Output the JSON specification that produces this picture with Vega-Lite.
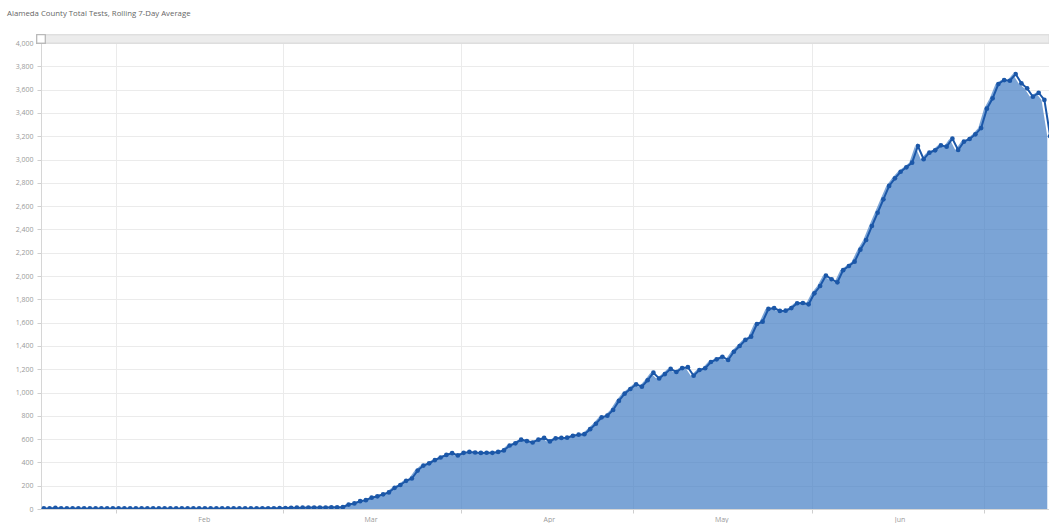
{
  "$schema": "https://vega.github.io/schema/vega-lite/v6.json",
  "autosize": "none",
  "width": 1008,
  "height": 466,
  "padding": {"left": 41, "top": 43, "right": 0, "bottom": 14},
  "background": "white",
  "title": {
    "text": "Alameda County Total Tests, Rolling 7-Day Average",
    "anchor": "start",
    "frame": "group",
    "dx": -34,
    "offset": 15,
    "font": "Open Sans",
    "fontSize": 7.8,
    "fontWeight": "normal",
    "color": "#666666"
  },
  "config": {
    "view": {"stroke": null},
    "axis": {
      "labelFont": "Open Sans",
      "labelFontSize": 7,
      "labelColor": "#9a9a9a",
      "labelOverlap": false,
      "gridColor": "#ebebeb",
      "gridWidth": 1,
      "tickColor": "#cfcfcf",
      "tickSize": 4,
      "domainColor": "#d6d6d6"
    },
    "axisY": {"tickCount": 20}
  },
  "data": {
    "values": [
      {"date": "2020-01-19", "tests": 5}, {"date": "2020-01-20", "tests": 5}, {"date": "2020-01-21", "tests": 9},
      {"date": "2020-01-22", "tests": 5}, {"date": "2020-01-23", "tests": 5}, {"date": "2020-01-24", "tests": 5},
      {"date": "2020-01-25", "tests": 5}, {"date": "2020-01-26", "tests": 5}, {"date": "2020-01-27", "tests": 5},
      {"date": "2020-01-28", "tests": 5}, {"date": "2020-01-29", "tests": 5}, {"date": "2020-01-30", "tests": 5},
      {"date": "2020-01-31", "tests": 5},
      {"date": "2020-02-01", "tests": 5}, {"date": "2020-02-02", "tests": 5}, {"date": "2020-02-03", "tests": 5},
      {"date": "2020-02-04", "tests": 5}, {"date": "2020-02-05", "tests": 5}, {"date": "2020-02-06", "tests": 5},
      {"date": "2020-02-07", "tests": 5}, {"date": "2020-02-08", "tests": 5}, {"date": "2020-02-09", "tests": 5},
      {"date": "2020-02-10", "tests": 5}, {"date": "2020-02-11", "tests": 5}, {"date": "2020-02-12", "tests": 5},
      {"date": "2020-02-13", "tests": 5}, {"date": "2020-02-14", "tests": 5}, {"date": "2020-02-15", "tests": 5},
      {"date": "2020-02-16", "tests": 5}, {"date": "2020-02-17", "tests": 5}, {"date": "2020-02-18", "tests": 5},
      {"date": "2020-02-19", "tests": 5}, {"date": "2020-02-20", "tests": 5}, {"date": "2020-02-21", "tests": 5},
      {"date": "2020-02-22", "tests": 5}, {"date": "2020-02-23", "tests": 5}, {"date": "2020-02-24", "tests": 5},
      {"date": "2020-02-25", "tests": 5}, {"date": "2020-02-26", "tests": 6}, {"date": "2020-02-27", "tests": 6},
      {"date": "2020-02-28", "tests": 6}, {"date": "2020-02-29", "tests": 7},
      {"date": "2020-03-01", "tests": 8}, {"date": "2020-03-02", "tests": 10}, {"date": "2020-03-03", "tests": 11},
      {"date": "2020-03-04", "tests": 11}, {"date": "2020-03-05", "tests": 12}, {"date": "2020-03-06", "tests": 12},
      {"date": "2020-03-07", "tests": 12}, {"date": "2020-03-08", "tests": 13}, {"date": "2020-03-09", "tests": 14},
      {"date": "2020-03-10", "tests": 14}, {"date": "2020-03-11", "tests": 16}, {"date": "2020-03-12", "tests": 38},
      {"date": "2020-03-13", "tests": 48}, {"date": "2020-03-14", "tests": 67}, {"date": "2020-03-15", "tests": 76},
      {"date": "2020-03-16", "tests": 97}, {"date": "2020-03-17", "tests": 109}, {"date": "2020-03-18", "tests": 126},
      {"date": "2020-03-19", "tests": 142}, {"date": "2020-03-20", "tests": 182}, {"date": "2020-03-21", "tests": 206},
      {"date": "2020-03-22", "tests": 242}, {"date": "2020-03-23", "tests": 262}, {"date": "2020-03-24", "tests": 330},
      {"date": "2020-03-25", "tests": 373}, {"date": "2020-03-26", "tests": 392}, {"date": "2020-03-27", "tests": 420},
      {"date": "2020-03-28", "tests": 442}, {"date": "2020-03-29", "tests": 464}, {"date": "2020-03-30", "tests": 480},
      {"date": "2020-03-31", "tests": 460},
      {"date": "2020-04-01", "tests": 482}, {"date": "2020-04-02", "tests": 490}, {"date": "2020-04-03", "tests": 485},
      {"date": "2020-04-04", "tests": 481}, {"date": "2020-04-05", "tests": 483}, {"date": "2020-04-06", "tests": 482},
      {"date": "2020-04-07", "tests": 490}, {"date": "2020-04-08", "tests": 503}, {"date": "2020-04-09", "tests": 545},
      {"date": "2020-04-10", "tests": 564}, {"date": "2020-04-11", "tests": 595}, {"date": "2020-04-12", "tests": 583},
      {"date": "2020-04-13", "tests": 571}, {"date": "2020-04-14", "tests": 595}, {"date": "2020-04-15", "tests": 610},
      {"date": "2020-04-16", "tests": 580}, {"date": "2020-04-17", "tests": 607}, {"date": "2020-04-18", "tests": 610},
      {"date": "2020-04-19", "tests": 612}, {"date": "2020-04-20", "tests": 628}, {"date": "2020-04-21", "tests": 638},
      {"date": "2020-04-22", "tests": 642}, {"date": "2020-04-23", "tests": 685}, {"date": "2020-04-24", "tests": 732},
      {"date": "2020-04-25", "tests": 787}, {"date": "2020-04-26", "tests": 801}, {"date": "2020-04-27", "tests": 850},
      {"date": "2020-04-28", "tests": 928}, {"date": "2020-04-29", "tests": 990}, {"date": "2020-04-30", "tests": 1030},
      {"date": "2020-05-01", "tests": 1070}, {"date": "2020-05-02", "tests": 1050}, {"date": "2020-05-03", "tests": 1105},
      {"date": "2020-05-04", "tests": 1170}, {"date": "2020-05-05", "tests": 1120}, {"date": "2020-05-06", "tests": 1158},
      {"date": "2020-05-07", "tests": 1203}, {"date": "2020-05-08", "tests": 1176}, {"date": "2020-05-09", "tests": 1210},
      {"date": "2020-05-10", "tests": 1217}, {"date": "2020-05-11", "tests": 1144}, {"date": "2020-05-12", "tests": 1193},
      {"date": "2020-05-13", "tests": 1208}, {"date": "2020-05-14", "tests": 1262}, {"date": "2020-05-15", "tests": 1285},
      {"date": "2020-05-16", "tests": 1307}, {"date": "2020-05-17", "tests": 1279}, {"date": "2020-05-18", "tests": 1350},
      {"date": "2020-05-19", "tests": 1399}, {"date": "2020-05-20", "tests": 1451}, {"date": "2020-05-21", "tests": 1479},
      {"date": "2020-05-22", "tests": 1588}, {"date": "2020-05-23", "tests": 1608}, {"date": "2020-05-24", "tests": 1717},
      {"date": "2020-05-25", "tests": 1725}, {"date": "2020-05-26", "tests": 1700}, {"date": "2020-05-27", "tests": 1702},
      {"date": "2020-05-28", "tests": 1725}, {"date": "2020-05-29", "tests": 1766}, {"date": "2020-05-30", "tests": 1768},
      {"date": "2020-05-31", "tests": 1757},
      {"date": "2020-06-01", "tests": 1851}, {"date": "2020-06-02", "tests": 1914}, {"date": "2020-06-03", "tests": 2004},
      {"date": "2020-06-04", "tests": 1972}, {"date": "2020-06-05", "tests": 1946}, {"date": "2020-06-06", "tests": 2050},
      {"date": "2020-06-07", "tests": 2086}, {"date": "2020-06-08", "tests": 2123}, {"date": "2020-06-09", "tests": 2226},
      {"date": "2020-06-10", "tests": 2309}, {"date": "2020-06-11", "tests": 2429}, {"date": "2020-06-12", "tests": 2543},
      {"date": "2020-06-13", "tests": 2658}, {"date": "2020-06-14", "tests": 2773}, {"date": "2020-06-15", "tests": 2838},
      {"date": "2020-06-16", "tests": 2895}, {"date": "2020-06-17", "tests": 2933}, {"date": "2020-06-18", "tests": 2973},
      {"date": "2020-06-19", "tests": 3116}, {"date": "2020-06-20", "tests": 3002}, {"date": "2020-06-21", "tests": 3059},
      {"date": "2020-06-22", "tests": 3079}, {"date": "2020-06-23", "tests": 3122}, {"date": "2020-06-24", "tests": 3110},
      {"date": "2020-06-25", "tests": 3179}, {"date": "2020-06-26", "tests": 3082}, {"date": "2020-06-27", "tests": 3153},
      {"date": "2020-06-28", "tests": 3176}, {"date": "2020-06-29", "tests": 3216}, {"date": "2020-06-30", "tests": 3270},
      {"date": "2020-07-01", "tests": 3436}, {"date": "2020-07-02", "tests": 3525}, {"date": "2020-07-03", "tests": 3648},
      {"date": "2020-07-04", "tests": 3682}, {"date": "2020-07-05", "tests": 3676}, {"date": "2020-07-06", "tests": 3734},
      {"date": "2020-07-07", "tests": 3654}, {"date": "2020-07-08", "tests": 3611}, {"date": "2020-07-09", "tests": 3539},
      {"date": "2020-07-10", "tests": 3573}, {"date": "2020-07-11", "tests": 3511}, {"date": "2020-07-12", "tests": 3200}
    ]
  },
  "layer": [
    {
      "mark": {"type": "area", "color": "#3d79c2", "opacity": 0.68, "clip": true},
      "encoding": {
        "x": {
          "field": "date",
          "type": "temporal",
          "timeUnit": "utcyearmonthdate",
          "bandPosition": 0.5,
          "title": null,
          "scale": {
            "type": "utc",
            "domain": [
              {"year": 2020, "month": 1, "date": 19, "utc": true},
              {"year": 2020, "month": 7, "date": 12, "hours": 7, "minutes": 12, "utc": true}
            ]
          },
          "axis": {
            "values": [
              {"year": 2020, "month": 2, "date": 1, "utc": true},
              {"year": 2020, "month": 3, "date": 1, "utc": true},
              {"year": 2020, "month": 4, "date": 1, "utc": true},
              {"year": 2020, "month": 5, "date": 1, "utc": true},
              {"year": 2020, "month": 6, "date": 1, "utc": true},
              {"year": 2020, "month": 7, "date": 1, "utc": true}
            ],
            "labelExpr": "utcmonth(datum.value) == 6 ? '' : utcFormat(datum.value, '%b')",
            "labelOffset": 88,
            "labelPadding": 2,
            "labelOverlap": false,
            "grid": true
          }
        },
        "y": {
          "field": "tests",
          "type": "quantitative",
          "title": null,
          "scale": {"domain": [0, 4000], "nice": false},
          "axis": {
            "tickCount": 20,
            "labelExpr": "format(datum.value, ',')",
            "labelPadding": 4,
            "labelOverlap": false,
            "grid": true
          }
        }
      }
    },
    {
      "mark": {"type": "line", "color": "#1b57a8", "strokeWidth": 2, "clip": true},
      "encoding": {
        "x": {"field": "date", "type": "temporal", "timeUnit": "utcyearmonthdate", "bandPosition": 0.5, "title": null},
        "y": {"field": "tests", "type": "quantitative", "title": null}
      }
    },
    {
      "mark": {"type": "point", "filled": true, "color": "#1b57a8", "size": 22, "opacity": 1, "clip": true},
      "encoding": {
        "x": {"field": "date", "type": "temporal", "timeUnit": "utcyearmonthdate", "bandPosition": 0.5, "title": null},
        "y": {"field": "tests", "type": "quantitative", "title": null}
      }
    },
    {
      "mark": {"type": "rect", "fill": "#ececec", "stroke": "#dddddd", "strokeWidth": 1},
      "encoding": {
        "x": {"datum": {"year": 2020, "month": 1, "date": 19, "utc": true}, "type": "temporal", "title": null},
        "x2": {"datum": {"year": 2020, "month": 7, "date": 12, "hours": 7, "minutes": 12, "utc": true}},
        "y": {"datum": 4000, "type": "quantitative", "title": null},
        "y2": {"datum": 4070}
      }
    },
    {
      "mark": {"type": "point", "shape": "square", "filled": true, "fill": "#ffffff", "stroke": "#b5b5b5", "strokeWidth": 1, "size": 70, "opacity": 1},
      "encoding": {
        "x": {"datum": {"year": 2020, "month": 1, "date": 19, "utc": true}, "type": "temporal", "title": null},
        "y": {"datum": 4035, "type": "quantitative", "title": null}
      }
    }
  ]
}
